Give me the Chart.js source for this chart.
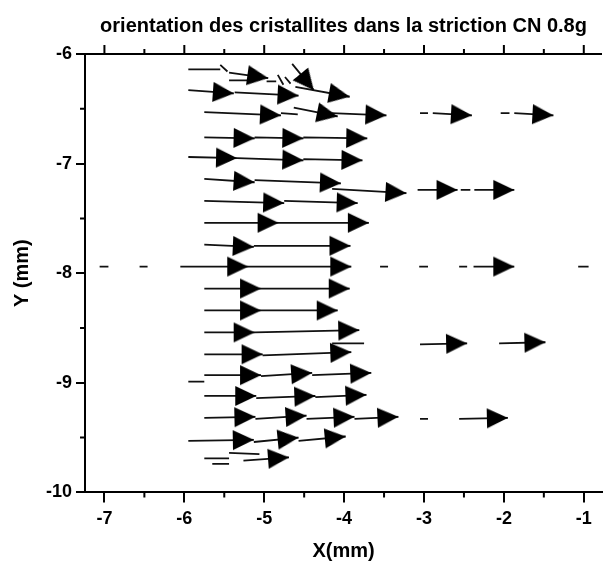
<!DOCTYPE html>
<html>
<head>
<meta charset="utf-8">
<script src="https://cdn.jsdelivr.net/npm/chart.js@4/dist/chart.umd.min.js"></script>
<style>
html,body{margin:0;padding:0;background:#fff;}
#wrap{width:613px;height:567px;}
</style>
</head>
<body>
<div id="wrap"><canvas id="c" width="613" height="567"></canvas></div>
<script>
// ---------- texts ----------
const TITLE = 'orientation des cristallites dans la striction CN 0.8g';
const X_TITLE = 'X(mm)';
const Y_TITLE = 'Y (mm)';

// ---------- axes ----------
const X_MIN = -7.243, X_MAX = -0.772;
const Y_MIN = -10, Y_MAX = -6;
const X_TICKS = [-7, -6.5, -6, -5.5, -5, -4.5, -4, -3.5, -3, -2.5, -2, -1.5, -1];
const X_MAJOR = [-7, -6, -5, -4, -3, -2, -1];
const X_LABELS = ['-7', '-6', '-5', '-4', '-3', '-2', '-1'];
const Y_TICKS = [-6, -6.5, -7, -7.5, -8, -8.5, -9, -9.5, -10];
const Y_MAJOR = [-6, -7, -8, -9, -10];
const Y_LABELS = ['-6', '-7', '-8', '-9', '-10'];

// ---------- vectors (tail x, tail y, tip x, tip y) in mm ----------
const ARROW_X0 = [-5.44,-4.65,-4.61,-5.95,-5.37,-5.75,-4.63,-4.16,-2.89,-1.87,
                  -5.75,-5.12,-4.51,-5.95,-5.34,-4.51,-5.75,-5.12,-4.15,-3.08,
                  -2.37,-5.75,-4.75,-5.75,-4.82,-5.75,-5.13,-6.05,-5.20,-2.38,
                  -5.75,-5.04,-5.75,-5.04,-5.75,-5.12,-3.05,-2.06,-5.75,-5.02,
                  -5.75,-5.04,-4.40,-5.75,-5.10,-4.36,-5.75,-5.11,-4.47,-3.87,
                  -2.56,-5.95,-5.13,-4.57,-5.26];
const ARROW_Y0 = [-6.17,-6.09,-6.30,-6.33,-6.35,-6.53,-6.49,-6.54,-6.54,-6.54,
                  -6.76,-6.76,-6.76,-6.94,-6.95,-6.96,-7.14,-7.15,-7.23,-7.24,
                  -7.24,-7.34,-7.34,-7.54,-7.54,-7.74,-7.75,-7.94,-7.94,-7.94,
                  -8.14,-8.14,-8.34,-8.34,-8.54,-8.54,-8.65,-8.64,-8.74,-8.75,
                  -8.93,-8.94,-8.93,-9.12,-9.14,-9.13,-9.32,-9.33,-9.33,-9.33,
                  -9.33,-9.53,-9.54,-9.53,-9.71];
const ARROW_X1 = [-4.95,-4.38,-3.93,-5.38,-4.57,-4.79,-4.08,-3.47,-2.40,-1.38,
                  -5.12,-4.51,-3.71,-5.34,-4.51,-3.77,-5.12,-4.04,-3.22,-2.58,
                  -1.87,-4.75,-3.83,-4.82,-3.69,-5.13,-3.92,-5.20,-3.91,-1.87,
                  -5.04,-3.93,-5.04,-4.08,-5.12,-3.81,-2.46,-1.48,-5.02,-3.91,
                  -5.04,-4.40,-3.66,-5.10,-4.36,-3.72,-5.11,-4.47,-3.87,-3.32,
                  -1.95,-5.13,-4.57,-3.98,-4.69];
const ARROW_Y1 = [-6.22,-6.33,-6.39,-6.36,-6.38,-6.56,-6.57,-6.56,-6.56,-6.56,
                  -6.77,-6.77,-6.77,-6.95,-6.97,-6.97,-7.17,-7.18,-7.27,-7.24,
                  -7.24,-7.36,-7.36,-7.54,-7.54,-7.76,-7.75,-7.94,-7.94,-7.94,
                  -8.14,-8.14,-8.34,-8.34,-8.54,-8.52,-8.64,-8.63,-8.74,-8.72,
                  -8.93,-8.91,-8.91,-9.12,-9.12,-9.11,-9.31,-9.30,-9.31,-9.31,
                  -9.32,-9.52,-9.50,-9.49,-9.68];

// ---------- headless strokes (very short vectors / overlapping tails) ----------
const SEG_X0 = [-5.95,-5.55,-5.44,-4.97,-4.83,-4.74,-4.79,-3.05,-2.04,-2.54,
                -4.15,-7.06,-6.56,-3.55,-3.06,-2.56,-1.07,-5.95,-3.05,-5.75,
                -5.65,-5.44];
const SEG_Y0 = [-6.14,-6.10,-6.24,-6.25,-6.19,-6.21,-6.54,-6.54,-6.54,-7.24,
                -8.64,-7.94,-7.94,-7.94,-7.94,-7.94,-7.94,-8.99,-9.33,-9.69,
                -9.74,-9.64];
const SEG_X1 = [-5.55,-5.46,-5.20,-4.85,-4.76,-4.67,-4.58,-2.95,-1.93,-2.42,
                -3.75,-6.95,-6.46,-3.45,-2.95,-2.46,-0.94,-5.75,-2.95,-5.44,
                -5.44,-5.06];
const SEG_Y1 = [-6.14,-6.16,-6.24,-6.25,-6.28,-6.27,-6.55,-6.54,-6.54,-7.24,
                -8.64,-7.94,-7.94,-7.94,-7.94,-7.94,-7.94,-8.99,-9.33,-9.69,
                -9.74,-9.65];

// ---------- build datasets ----------
const tailData = [];
for (let i = 0; i < ARROW_X0.length; i++) {
  tailData.push({x: ARROW_X0[i], y: ARROW_Y0[i]}, {x: ARROW_X1[i], y: ARROW_Y1[i]}, {x: ARROW_X1[i], y: null});
}
for (let i = 0; i < SEG_X0.length; i++) {
  tailData.push({x: SEG_X0[i], y: SEG_Y0[i]}, {x: SEG_X1[i], y: SEG_Y1[i]}, {x: SEG_X1[i], y: null});
}
const headData = ARROW_X1.map((x, i) => ({x: x, y: ARROW_Y1[i]}));

// arrow head sprite: tip at sprite centre, pointing right
const HEAD_LEN = 21, HEAD_HALF = 10;
const head = document.createElement('canvas');
head.width = HEAD_LEN * 2 + 2; head.height = HEAD_HALF * 2 + 2;
(function () {
  const g = head.getContext('2d');
  const cx = head.width / 2, cy = head.height / 2;
  g.fillStyle = '#000';
  g.beginPath();
  g.moveTo(cx, cy);
  g.lineTo(cx - HEAD_LEN, cy - HEAD_HALF);
  g.lineTo(cx - HEAD_LEN, cy + HEAD_HALF);
  g.closePath();
  g.fill();
})();

Chart.defaults.font.family = "'Liberation Sans', Arial, sans-serif";
Chart.defaults.color = '#000';

const tickColor = (vals) => (c) => (c.tick && vals.includes(c.tick.value)) ? '#000' : 'rgba(0,0,0,0)';

const axisDecor = {
  id: 'axisDecor',
  afterDraw(chart) {
    const {ctx, chartArea: a} = chart;
    const xs = chart.scales.x, ys = chart.scales.y;
    ctx.save();
    ctx.strokeStyle = '#000';
    ctx.lineWidth = 2;
    ctx.beginPath();
    ctx.moveTo(a.left - 1, a.top);
    ctx.lineTo(a.right, a.top);
    X_TICKS.forEach(v => {
      const px = xs.getPixelForValue(v);
      const major = X_MAJOR.includes(v);
      ctx.moveTo(px, a.top);
      ctx.lineTo(px, a.top - (major ? 9 : 5));
      if (!major) { ctx.moveTo(px, a.bottom); ctx.lineTo(px, a.bottom + 5); }
    });
    Y_TICKS.forEach(v => {
      if (Y_MAJOR.includes(v)) return;
      const py = ys.getPixelForValue(v);
      ctx.moveTo(a.left, py);
      ctx.lineTo(a.left - 5, py);
    });
    ctx.stroke();
    ctx.restore();
  }
};

new Chart(document.getElementById('c'), {
  type: 'scatter',
  data: {
    datasets: [
      {
        type: 'scatter',
        data: headData,
        pointStyle: head,
        pointRadius: 10,
        rotation: (c) => {
          const i = c.dataIndex;
          const ch = c.chart;
          const xs = ch.scales.x, ys = ch.scales.y;
          if (i == null || !xs || !ys) return 0;
          const dx = xs.getPixelForValue(ARROW_X1[i]) - xs.getPixelForValue(ARROW_X0[i]);
          const dy = ys.getPixelForValue(ARROW_Y1[i]) - ys.getPixelForValue(ARROW_Y0[i]);
          return Math.atan2(dy, dx) * 180 / Math.PI;
        },
        order: 0
      },
      {
        type: 'line',
        data: tailData,
        borderColor: '#111',
        borderWidth: 1.8,
        pointRadius: 0,
        spanGaps: false,
        tension: 0,
        fill: false,
        order: 1
      }
    ]
  },
  options: {
    responsive: false,
    animation: false,
    events: [],
    layout: {padding: {left: 2, right: 0, top: 0, bottom: 0}},
    plugins: {
      legend: {display: false},
      tooltip: {enabled: false},
      title: {
        display: true,
        text: TITLE,
        fullSize: false,
        color: '#000',
        font: {size: 20, weight: 'bold'},
        padding: {top: 14, bottom: 16}
      }
    },
    scales: {
      x: {
        type: 'linear',
        position: 'bottom',
        min: X_MIN,
        max: X_MAX,
        afterBuildTicks: (s) => { s.ticks = X_TICKS.map(v => ({value: v})); },
        ticks: {
          autoSkip: false,
          maxRotation: 0,
          padding: 6,
          color: '#000',
          font: {size: 18, weight: 'bold'},
          callback: (v) => { const k = X_MAJOR.indexOf(v); return k >= 0 ? X_LABELS[k] : ''; }
        },
        grid: {drawOnChartArea: false, drawTicks: true, tickLength: 10, lineWidth: 2, color: tickColor(X_MAJOR)},
        border: {display: true, color: '#000', width: 2},
        title: {display: true, text: X_TITLE, color: '#000', font: {size: 20, weight: 'bold'}, padding: {top: 3, bottom: 4}}
      },
      y: {
        type: 'linear',
        position: 'left',
        min: Y_MIN,
        max: Y_MAX,
        afterBuildTicks: (s) => { s.ticks = Y_TICKS.map(v => ({value: v})); },
        ticks: {
          autoSkip: false,
          padding: 4,
          color: '#000',
          font: {size: 18, weight: 'bold'},
          callback: (v) => { const k = Y_MAJOR.indexOf(v); return k >= 0 ? Y_LABELS[k] : ''; }
        },
        grid: {drawOnChartArea: false, drawTicks: true, tickLength: 9, lineWidth: 2, color: tickColor(Y_MAJOR)},
        border: {display: true, color: '#000', width: 2},
        title: {display: true, text: Y_TITLE, color: '#000', font: {size: 20, weight: 'bold'}, padding: {top: 8, bottom: 8}}
      }
    }
  },
  plugins: [axisDecor]
});
</script>
</body>
</html>
